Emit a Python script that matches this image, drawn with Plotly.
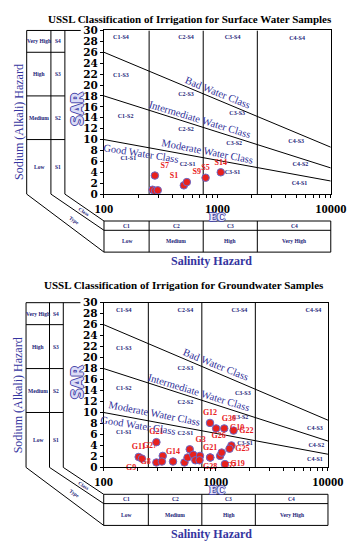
import math
import plotly.graph_objects as go

W, H = 364, 550

# ---------------- data ----------------
ec_class_bounds = [250, 750, 2250]
boundary_ec = [100, 10000]
bad_line_sar = [26.0, 8.6]
intermediate_line_sar = [18.0, 4.8]
moderate_line_sar = [10.0, 2.4]

sar_ticks = list(range(0, 31, 2))
ec_ticks = [100, 1000, 10000]
ec_tick_labels = ["100", "1000", "10000"]
ec_minor_ticks = [200, 300, 400, 500, 600, 700, 800, 900,
                  2000, 3000, 4000, 5000, 6000, 7000, 8000, 9000]

salinity_classes = ["C1", "C2", "C3", "C4"]
salinity_types = ["Low", "Medium", "High", "Very High"]
sodium_classes = ["S4", "S3", "S2", "S1"]
sodium_types = ["Very High", "High", "Medium", "Low"]

zone_names = ["C1-S4", "C2-S4", "C3-S4", "C4-S4",
              "C1-S3", "C2-S3", "C3-S3", "C4-S3",
              "C1-S2", "C2-S2", "C3-S2", "C4-S2",
              "C1-S1", "C2-S1", "C3-S1", "C4-S1"]
surface_zone_ec = [141, 529, 1361, 5047,
                   141, 529, 1496, 4955,
                   155, 529, 1406, 5400,
                   164, 546, 1360, 5300]
surface_zone_sar = [28.7, 28.7, 28.7, 28.6,
                    21.8, 18.2, 14.8, 9.6,
                    14.3, 11.9, 9.25, 5.4,
                    6.5, 5.5, 3.9, 1.95]
ground_zone_ec = [151, 535, 1622, 7413,
                  151, 535, 1742, 7656,
                  151, 535, 1656, 7870,
                  151, 535, 1820, 7656]
ground_zone_sar = [28.5, 28.5, 28.5, 28.5,
                   21.6, 18.1, 13.5, 7.1,
                   14.4, 11.9, 9.1, 3.9,
                   6.4, 6.2, 4.35, 1.4]

water_classes = ["Bad Water Class", "Intermediate Water Class",
                 "Moderate Water Class", "Good Water Class"]
surface_water_ec = [1004, 701, 826, 214]
surface_water_sar = [18.65, 13.7, 7.9, 7.46]
ground_water_ec = [993, 703, 286, 204]
ground_water_sar = [18.7, 13.67, 9.9, 7.55]

surface_names = ["S7", "", "", "", "S1", "S9", "S5", "S14"]
surface_ec = [281, 268, 282, 298, 506, 538, 787, 1071]
surface_sar = [3.4, 0.8, 0.6, 0.7, 1.6, 2.2, 3.0, 4.0]

ground_names = ["G12", "G30", "G10", "G22", "G21", "G26", "G25", "G11", "G9",
                "G27", "G8", "", "G14", "", "G3", "", "", "", "", "",
                "G21", "G28", "G7", "", "G19"]
ground_ec = [887, 1006, 1188, 1439, 295, 1377, 1324, 205, 219,
             336, 295, 330, 415, 525, 585, 559, 628, 656, 722, 715,
             891, 891, 1091, 1128, 1205]
ground_sar = [8.1, 7.1, 7.1, 6.7, 4.6, 4.0, 3.4, 1.9, 1.6,
              2.1, 0.9, 1.07, 1.07, 0.9, 3.3, 1.8, 2.3, 1.3, 2.1, 1.3,
              1.8, 1.8, 2.1, 2.7, 0.6]

# ---------------- styles ----------------
surface_text_pos = ["top right", "top center", "top center", "top center",
                    "top left", "top right", "top center", "top center"]
ground_text_pos = ["top center", "top right", "middle right", "middle right",
                   "top center", "top left", "middle right", "top center",
                   "bottom left", "top left", "middle left", "top center",
                   "top center", "top center", "top right", "top center",
                   "top center", "top center", "top center", "top center",
                   "top center", "bottom center", "bottom right", "top center",
                   "middle right"]
water_angles = [22, 17, 11, 9]

SERIF = "Liberation Serif"
NAVY = "#1c1c78"
BLUE = "#2f2f98"
RED = "#e8211d"
OUTLINE = "-1px 0 #4848a8, 1px 0 #4848a8, 0 -1px #4848a8, 0 1px #4848a8"

panels = [
    dict(xa="x", ya="y", L=102, R=345.5, T=25, B=192.3, cols=(19, 45, 60),
         title="USSL Classification of Irrigation for Surface Water Samples",
         tx=194, ty=13.5,
         zone_ec=surface_zone_ec, zone_sar=surface_zone_sar,
         w_ec=surface_water_ec, w_sar=surface_water_sar,
         names=surface_names, ec=surface_ec, sar=surface_sar, tpos=surface_text_pos),
    dict(xa="x2", ya="y2", L=101.7, R=342.5, T=303.3, B=471.7, cols=(18.3, 43.5, 58.3),
         title="USSL Classification of Irrigation for Groundwater Samples",
         tx=188, ty=285.7,
         zone_ec=ground_zone_ec, zone_sar=ground_zone_sar,
         w_ec=ground_water_ec, w_sar=ground_water_sar,
         names=ground_names, ec=ground_ec, sar=ground_sar, tpos=ground_text_pos),
]


def px(x):
    return x / W


def py(y):
    return 1 - y / H


fig = go.Figure()
shapes = []
annotations = []


def seg(x0, y0, x1, y1, w=1):
    shapes.append(dict(type="line", xref="paper", yref="paper",
                       x0=px(x0), y0=py(y0), x1=px(x1), y1=py(y1),
                       line=dict(color="black", width=w)))


def label(x, y, text, size, color=NAVY, bold=True, angle=0, family=SERIF, shadow=None):
    f = dict(family=family, size=size, color=color, weight="bold" if bold else "normal")
    if shadow:
        f["shadow"] = shadow
    annotations.append(dict(xref="paper", yref="paper", x=px(x), y=py(y), text=text,
                            showarrow=False, xanchor="center", yanchor="middle",
                            textangle=angle, font=f))


boundary_sets = [bad_line_sar, intermediate_line_sar, moderate_line_sar]

for i, p in enumerate(panels):
    L, R, T, B = p["L"], p["R"], p["T"], p["B"]
    xa_, xb_, xc_ = p["cols"]

    def ysar(s, T=T, B=B):
        return B - (B - T) * s / 30.0

    def xec(e, L=L, R=R):
        return L + (R - L) * (math.log10(e) - 2) / 2.0

    # boundary lines as one trace
    bx, by = [], []
    for b in ec_class_bounds:
        bx += [b, b, None]
        by += [0, 30, None]
    for s in boundary_sets:
        bx += boundary_ec + [None]
        by += s + [None]
    fig.add_trace(go.Scatter(x=bx, y=by, mode="lines", xaxis=p["xa"], yaxis=p["ya"],
                             line=dict(color="black", width=1), hoverinfo="skip"))
    # zone labels
    fig.add_trace(go.Scatter(x=p["zone_ec"], y=p["zone_sar"], text=zone_names, mode="text",
                             xaxis=p["xa"], yaxis=p["ya"], cliponaxis=False,
                             textfont=dict(family=SERIF, size=6, color=NAVY, weight="bold"),
                             hoverinfo="skip"))
    # samples
    fig.add_trace(go.Scatter(x=p["ec"], y=p["sar"], text=p["names"], mode="markers+text",
                             textposition=p["tpos"], xaxis=p["xa"], yaxis=p["ya"],
                             cliponaxis=False,
                             marker=dict(size=7.5, color=RED, line=dict(color="#6a6ac8", width=1)),
                             textfont=dict(family=SERIF, size=8, color=RED, weight="bold")))
    # water class labels
    for name, e, s, a in zip(water_classes, p["w_ec"], p["w_sar"], water_angles):
        annotations.append(dict(xref=p["xa"], yref=p["ya"], x=math.log10(e), y=s, text=name,
                                showarrow=False, textangle=a, xanchor="center", yanchor="middle",
                                font=dict(family=SERIF, size=10.5, color=BLUE)))

    # left table
    seg(xa_, T, L - 25, T)
    for xx in (xa_, xb_, xc_):
        seg(xx, T, xx, B)
    rows = [30] + [s[0] for s in boundary_sets] + [0]
    for s in rows[1:-1]:
        seg(xa_, ysar(s), xc_, ysar(s))
    for k in range(4):
        yc = (ysar(rows[k]) + ysar(rows[k + 1])) / 2
        label((xa_ + xb_) / 2, yc, sodium_types[k], 5.5)
        label((xb_ + xc_) / 2, yc, sodium_classes[k], 5.5)
    # diagonals
    yt, ym, yb = B + 27.5, B + 37, B + 59.3
    seg(xa_, B, L, yb)
    seg(xb_, B, L, ym)
    seg(xc_, B, L, yt)
    label(79.5, B + 18, "Class", 5, angle=33)
    label(70, B + 26.5, "Type", 5, angle=35)
    # bottom table
    for yy in (yt, ym, yb):
        seg(L, yy, R, yy)
    xs = [L] + [xec(b) for b in ec_class_bounds] + [R]
    for xx in xs:
        seg(xx, yt, xx, yb)
    for k in range(4):
        xc = (xs[k] + xs[k + 1]) / 2
        label(xc, (yt + ym) / 2, salinity_classes[k], 5.5)
        label(xc, (ym + yb) / 2, salinity_types[k], 5.5)

    # titles and axis names
    label(p["tx"], p["ty"], p["title"], 11, color="black")
    label(10, B - 74, "Sodium (Alkali) Hazard", 12, color="#3535a0", bold=False, angle=-90)
    label(74, B - 87, "SAR", 15, color="#dcdcf6", family="DejaVu Sans", angle=-90,
          shadow=OUTLINE)
    label(223, B + 23.6, "EC", 10.5, color="#e8e8fa", family="DejaVu Serif", shadow=OUTLINE)
    label(217, B + 68.5, "Salinity Hazard", 12, color="#3535a0")

    # axes
    xdict = dict(type="log", range=[2, 4], domain=[L / W, R / W], anchor=p["ya"],
                 showline=True, linecolor="black", linewidth=1, mirror=True,
                 ticks="outside", ticklen=3, tickcolor="black",
                 tickvals=ec_ticks, ticktext=ec_tick_labels, ticklabelstandoff=0,
                 tickfont=dict(family=SERIF, size=12.5, color="black", weight="bold"),
                 minor=dict(tickvals=ec_minor_ticks, ticks="outside", ticklen=3,
                            tickcolor="black", showgrid=False),
                 showgrid=False, zeroline=False, fixedrange=True)
    ydict = dict(range=[0, 30], domain=[1 - B / H, 1 - T / H], anchor=p["xa"],
                 showline=True, linecolor="black", linewidth=1, mirror=True,
                 ticks="outside", ticklen=3, tickcolor="black",
                 tickvals=sar_ticks,
                 tickfont=dict(family="DejaVu Serif", size=10.5, color="black", weight="bold"),
                 showgrid=False, zeroline=False, fixedrange=True)
    if i == 0:
        fig.update_layout(xaxis=xdict, yaxis=ydict)
    else:
        fig.update_layout(xaxis2=xdict, yaxis2=ydict)

fig.update_layout(width=W, height=H, margin=dict(l=0, r=0, t=0, b=0),
                  paper_bgcolor="white", plot_bgcolor="white", showlegend=False,
                  shapes=shapes, annotations=annotations)

fig.write_html("out.html", config={"displayModeBar": False},
               post_script="document.body.style.margin='0';")
